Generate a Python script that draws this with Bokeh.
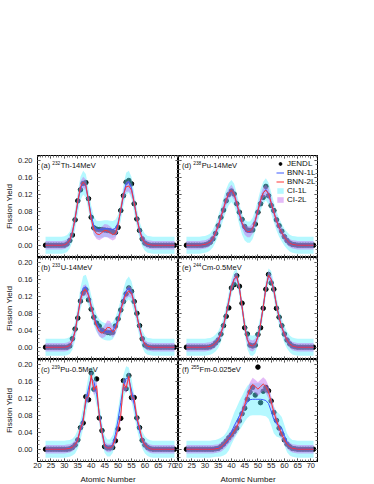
from bokeh.plotting import figure
from bokeh.layouts import gridplot
from bokeh.models import (LinearAxis, FixedTicker, NumeralTickFormatter, Range1d,
                          Label, Legend, LegendItem)
from bokeh.embed import file_html
from bokeh.resources import INLINE

# ---------------- data (Z = 23 ... 71) ----------------
Z = list(range(23, 72))
x_ticks = [20, 25, 30, 35, 40, 45, 50, 55, 60, 65, 70]
y_ticks = [0.00, 0.04, 0.08, 0.12, 0.16, 0.20]

panel_tags = ["(a) ", "(b) ", "(c) ", "(d) ", "(e) ", "(f) "]
panel_mass = ["232", "233", "239", "238", "244", "255"]
panel_rest = ["Th-14MeV", "U-14MeV", "Pu-0.5MeV", "Pu-14MeV", "Cm-0.5MeV", "Fm-0.025eV"]

# (a) Th-232 14 MeV
a_jendl = [0, 0, 0, 0, 0, 0, 0, 0, 0.003, 0.011,
           0.024, 0.060, 0.105, 0.131, 0.146, 0.148, 0.110, 0.066, 0.041, 0.038,
           0.037, 0.037, 0.036, 0.035, 0.034, 0.032, 0.030, 0.042, 0.082, 0.117,
           0.149, 0.153, 0.145, 0.098, 0.062, 0.035, 0.015, 0.005, 0.002, 0,
           0, 0, 0, 0, 0, 0, 0, 0, 0]
a_bnn1 = [0, 0, 0, 0, 0, 0, 0, 0.001, 0.004, 0.012,
          0.030, 0.062, 0.100, 0.134, 0.148, 0.140, 0.106, 0.070, 0.046, 0.038,
          0.037, 0.038, 0.039, 0.039, 0.038, 0.037, 0.040, 0.052, 0.080, 0.118,
          0.145, 0.150, 0.135, 0.100, 0.064, 0.036, 0.017, 0.007, 0.002, 0.001,
          0, 0, 0, 0, 0, 0, 0, 0, 0]
a_bnn2 = [0, 0, 0, 0, 0, 0, 0, 0.001, 0.004, 0.012,
          0.030, 0.064, 0.104, 0.138, 0.149, 0.142, 0.104, 0.062, 0.036, 0.027,
          0.025, 0.030, 0.035, 0.034, 0.030, 0.025, 0.028, 0.048, 0.085, 0.120,
          0.138, 0.140, 0.130, 0.100, 0.064, 0.035, 0.016, 0.006, 0.002, 0.001,
          0, 0, 0, 0, 0, 0, 0, 0, 0]
a_w1 = [0.02, 0.02, 0.02, 0.02, 0.02, 0.02, 0.02, 0.02, 0.02, 0.02,
        0.022, 0.024, 0.026, 0.028, 0.028, 0.028, 0.026, 0.024, 0.022, 0.020,
        0.020, 0.020, 0.020, 0.020, 0.020, 0.020, 0.020, 0.020, 0.022, 0.024,
        0.026, 0.026, 0.026, 0.024, 0.022, 0.020, 0.020, 0.020, 0.020, 0.020,
        0.02, 0.02, 0.02, 0.02, 0.02, 0.02, 0.02, 0.02, 0.02]
a_w2 = [0.01, 0.01, 0.01, 0.01, 0.01, 0.01, 0.01, 0.01, 0.01, 0.01,
        0.011, 0.012, 0.012, 0.013, 0.013, 0.013, 0.012, 0.012, 0.011, 0.012,
        0.013, 0.014, 0.015, 0.015, 0.015, 0.014, 0.013, 0.012, 0.011, 0.012,
        0.012, 0.013, 0.013, 0.012, 0.012, 0.011, 0.010, 0.010, 0.010, 0.010,
        0.01, 0.01, 0.01, 0.01, 0.01, 0.01, 0.01, 0.01, 0.01]

# (b) U-233 14 MeV
b_jendl = [0, 0, 0, 0, 0, 0, 0, 0, 0, 0.003,
           0.020, 0.043, 0.069, 0.109, 0.128, 0.136, 0.112, 0.090, 0.071, 0.057,
           0.050, 0.040, 0.037, 0.035, 0.034, 0.035, 0.050, 0.067, 0.088, 0.108,
           0.126, 0.140, 0.132, 0.108, 0.080, 0.051, 0.020, 0.005, 0.001, 0,
           0, 0, 0, 0, 0, 0, 0, 0, 0]
b_bnn1 = [0, 0, 0, 0, 0, 0, 0, 0, 0.001, 0.004,
          0.015, 0.038, 0.075, 0.115, 0.140, 0.143, 0.125, 0.098, 0.074, 0.057,
          0.046, 0.040, 0.037, 0.036, 0.036, 0.039, 0.050, 0.068, 0.090, 0.114,
          0.133, 0.140, 0.130, 0.105, 0.075, 0.045, 0.020, 0.007, 0.002, 0.001,
          0, 0, 0, 0, 0, 0, 0, 0, 0]
b_bnn2 = [0, 0, 0, 0, 0, 0, 0, 0, 0.001, 0.004,
          0.015, 0.038, 0.075, 0.112, 0.133, 0.136, 0.122, 0.096, 0.070, 0.050,
          0.037, 0.033, 0.038, 0.047, 0.046, 0.036, 0.042, 0.063, 0.088, 0.110,
          0.126, 0.133, 0.128, 0.105, 0.075, 0.045, 0.020, 0.007, 0.002, 0.001,
          0, 0, 0, 0, 0, 0, 0, 0, 0]
b_w1 = [0.02, 0.02, 0.02, 0.02, 0.02, 0.02, 0.02, 0.02, 0.02, 0.02,
        0.021, 0.022, 0.024, 0.026, 0.028, 0.028, 0.027, 0.025, 0.023, 0.021,
        0.020, 0.020, 0.020, 0.020, 0.020, 0.020, 0.020, 0.021, 0.022, 0.024,
        0.026, 0.027, 0.026, 0.024, 0.022, 0.021, 0.020, 0.020, 0.020, 0.020,
        0.02, 0.02, 0.02, 0.02, 0.02, 0.02, 0.02, 0.02, 0.02]
b_w2 = [0.01, 0.01, 0.01, 0.01, 0.01, 0.01, 0.01, 0.01, 0.01, 0.01,
        0.010, 0.011, 0.012, 0.013, 0.013, 0.013, 0.012, 0.012, 0.011, 0.011,
        0.011, 0.012, 0.014, 0.016, 0.016, 0.013, 0.011, 0.011, 0.011, 0.012,
        0.012, 0.013, 0.012, 0.012, 0.011, 0.011, 0.010, 0.010, 0.010, 0.010,
        0.01, 0.01, 0.01, 0.01, 0.01, 0.01, 0.01, 0.01, 0.01]

# (c) Pu-239 0.5 MeV
c_jendl = [0, 0, 0, 0, 0, 0, 0, 0, 0, 0.001,
           0.004, 0.010, 0.022, 0.051, 0.062, 0.124, 0.117, 0.180, 0.142, 0.166,
           0.074, 0.044, 0.006, 0.003, 0.003, 0.004, 0.020, 0.048, 0.073, 0.162,
           0.143, 0.174, 0.122, 0.122, 0.074, 0.051, 0.021, 0.010, 0.004, 0.001,
           0, 0, 0, 0, 0, 0, 0, 0, 0]
c_bnn1 = [0, 0, 0, 0, 0, 0, 0, 0, 0.001, 0.002,
          0.005, 0.011, 0.024, 0.045, 0.075, 0.110, 0.145, 0.168, 0.160, 0.130,
          0.085, 0.042, 0.012, 0.003, 0.003, 0.012, 0.035, 0.070, 0.110, 0.148,
          0.168, 0.165, 0.140, 0.105, 0.070, 0.042, 0.022, 0.010, 0.004, 0.001,
          0, 0, 0, 0, 0, 0, 0, 0, 0]
c_bnn2 = [0, 0, 0, 0, 0, 0, 0, 0, 0.001, 0.002,
          0.005, 0.011, 0.022, 0.050, 0.065, 0.120, 0.125, 0.175, 0.140, 0.150,
          0.078, 0.040, 0.008, 0.003, 0.003, 0.008, 0.025, 0.050, 0.080, 0.155,
          0.145, 0.172, 0.125, 0.118, 0.075, 0.050, 0.022, 0.010, 0.004, 0.001,
          0, 0, 0, 0, 0, 0, 0, 0, 0]
c_w1 = [0.02, 0.02, 0.02, 0.02, 0.02, 0.02, 0.02, 0.02, 0.02, 0.02,
        0.020, 0.021, 0.022, 0.024, 0.026, 0.028, 0.028, 0.028, 0.028, 0.027,
        0.025, 0.023, 0.021, 0.020, 0.020, 0.021, 0.023, 0.025, 0.027, 0.028,
        0.028, 0.028, 0.027, 0.025, 0.023, 0.021, 0.020, 0.020, 0.020, 0.020,
        0.02, 0.02, 0.02, 0.02, 0.02, 0.02, 0.02, 0.02, 0.02]
c_w2 = [0.01, 0.01, 0.01, 0.01, 0.01, 0.01, 0.01, 0.01, 0.01, 0.01,
        0.010, 0.010, 0.011, 0.011, 0.012, 0.012, 0.013, 0.013, 0.013, 0.013,
        0.012, 0.011, 0.010, 0.010, 0.010, 0.010, 0.011, 0.012, 0.013, 0.013,
        0.013, 0.013, 0.012, 0.012, 0.011, 0.011, 0.010, 0.010, 0.010, 0.010,
        0.01, 0.01, 0.01, 0.01, 0.01, 0.01, 0.01, 0.01, 0.01]

# (d) Pu-238 14 MeV
d_jendl = [0, 0, 0, 0, 0, 0, 0, 0.001, 0.003, 0.007,
           0.015, 0.028, 0.046, 0.066, 0.083, 0.105, 0.120, 0.128, 0.121, 0.098,
           0.078, 0.061, 0.044, 0.036, 0.035, 0.036, 0.050, 0.078, 0.098, 0.113,
           0.139, 0.117, 0.094, 0.082, 0.060, 0.046, 0.033, 0.020, 0.011, 0.005,
           0.002, 0.001, 0, 0, 0, 0, 0, 0, 0]
d_bnn1 = [0, 0, 0, 0, 0, 0, 0.001, 0.002, 0.004, 0.008,
          0.016, 0.029, 0.046, 0.066, 0.087, 0.106, 0.121, 0.128, 0.120, 0.098,
          0.072, 0.050, 0.036, 0.031, 0.031, 0.040, 0.058, 0.082, 0.106, 0.124,
          0.132, 0.122, 0.100, 0.078, 0.058, 0.042, 0.030, 0.019, 0.011, 0.005,
          0.002, 0.001, 0, 0, 0, 0, 0, 0, 0]
d_bnn2 = [0, 0, 0, 0, 0, 0, 0.001, 0.002, 0.004, 0.008,
          0.016, 0.029, 0.046, 0.066, 0.087, 0.107, 0.122, 0.130, 0.120, 0.100,
          0.075, 0.053, 0.038, 0.032, 0.032, 0.040, 0.058, 0.082, 0.106, 0.124,
          0.130, 0.122, 0.100, 0.078, 0.058, 0.042, 0.030, 0.019, 0.011, 0.005,
          0.002, 0.001, 0, 0, 0, 0, 0, 0, 0]
d_w1 = [0.02, 0.02, 0.02, 0.02, 0.02, 0.02, 0.02, 0.02, 0.02, 0.02,
        0.021, 0.022, 0.023, 0.024, 0.025, 0.026, 0.026, 0.026, 0.026, 0.025,
        0.025, 0.025, 0.025, 0.025, 0.025, 0.025, 0.025, 0.025, 0.026, 0.026,
        0.026, 0.026, 0.025, 0.024, 0.023, 0.022, 0.021, 0.020, 0.020, 0.020,
        0.02, 0.02, 0.02, 0.02, 0.02, 0.02, 0.02, 0.02, 0.02]
d_w2 = [0.01, 0.01, 0.01, 0.01, 0.01, 0.01, 0.01, 0.01, 0.01, 0.01,
        0.010, 0.011, 0.011, 0.012, 0.012, 0.013, 0.013, 0.013, 0.013, 0.013,
        0.013, 0.013, 0.013, 0.013, 0.013, 0.013, 0.013, 0.013, 0.013, 0.013,
        0.013, 0.013, 0.013, 0.012, 0.012, 0.011, 0.011, 0.010, 0.010, 0.010,
        0.01, 0.01, 0.01, 0.01, 0.01, 0.01, 0.01, 0.01, 0.01]

# (e) Cm-244 0.5 MeV
e_jendl = [0, 0, 0, 0, 0, 0, 0, 0, 0, 0.001,
           0.004, 0.010, 0.017, 0.031, 0.051, 0.073, 0.093, 0.140, 0.148, 0.169,
           0.144, 0.104, 0.046, 0.031, 0.005, 0.003, 0.005, 0.030, 0.046, 0.092,
           0.137, 0.172, 0.152, 0.137, 0.092, 0.071, 0.051, 0.031, 0.017, 0.008,
           0.003, 0.001, 0, 0, 0, 0, 0, 0, 0]
e_bnn1 = [0, 0, 0, 0, 0, 0, 0, 0, 0.001, 0.002,
          0.005, 0.010, 0.018, 0.032, 0.052, 0.078, 0.110, 0.142, 0.162, 0.166,
          0.140, 0.095, 0.050, 0.018, 0.005, 0.003, 0.008, 0.025, 0.055, 0.095,
          0.140, 0.168, 0.162, 0.135, 0.100, 0.070, 0.048, 0.030, 0.017, 0.008,
          0.003, 0.001, 0, 0, 0, 0, 0, 0, 0]
e_bnn2 = [0, 0, 0, 0, 0, 0, 0, 0, 0.001, 0.002,
          0.005, 0.010, 0.018, 0.032, 0.052, 0.078, 0.108, 0.142, 0.160, 0.168,
          0.140, 0.096, 0.050, 0.018, 0.005, 0.003, 0.008, 0.025, 0.055, 0.095,
          0.140, 0.170, 0.160, 0.135, 0.100, 0.070, 0.048, 0.030, 0.017, 0.008,
          0.003, 0.001, 0, 0, 0, 0, 0, 0, 0]
e_w1 = [0.02, 0.02, 0.02, 0.02, 0.02, 0.02, 0.02, 0.02, 0.02, 0.02,
        0.020, 0.020, 0.020, 0.020, 0.020, 0.020, 0.020, 0.019, 0.018, 0.018,
        0.019, 0.020, 0.021, 0.022, 0.024, 0.024, 0.022, 0.020, 0.020, 0.020,
        0.019, 0.018, 0.018, 0.019, 0.020, 0.020, 0.020, 0.020, 0.020, 0.020,
        0.02, 0.02, 0.02, 0.02, 0.02, 0.02, 0.02, 0.02, 0.02]
e_w2 = [0.01, 0.01, 0.01, 0.01, 0.01, 0.01, 0.01, 0.01, 0.01, 0.01,
        0.010, 0.010, 0.010, 0.010, 0.010, 0.010, 0.010, 0.010, 0.010, 0.010,
        0.010, 0.010, 0.011, 0.012, 0.013, 0.013, 0.012, 0.011, 0.010, 0.010,
        0.010, 0.010, 0.010, 0.010, 0.010, 0.010, 0.010, 0.010, 0.010, 0.010,
        0.01, 0.01, 0.01, 0.01, 0.01, 0.01, 0.01, 0.01, 0.01]

# (f) Fm-255 0.025 eV
f_jendl = [0, 0, 0, 0, 0, 0, 0, 0, 0, 0,
           0, 0.001, 0.002, 0.006, 0.012, 0.019, 0.027, 0.034, 0.042, 0.050,
           0.067, 0.084, 0.097, 0.118, 0.135, 0.146, 0.128, 0.194, 0.110, 0.137,
           0.146, 0.138, 0.114, 0.087, 0.068, 0.050, 0.036, 0.022, 0.012, 0.006,
           0.002, 0.001, 0, 0, 0, 0, 0, 0, 0]
f_bnn1 = [0, 0, 0, 0, 0, 0, 0, 0, 0, 0,
          0.001, 0.002, 0.003, 0.005, 0.008, 0.014, 0.024, 0.040, 0.055, 0.067,
          0.079, 0.090, 0.102, 0.112, 0.117, 0.118, 0.118, 0.118, 0.118, 0.117,
          0.115, 0.108, 0.090, 0.070, 0.060, 0.056, 0.050, 0.033, 0.015, 0.006,
          0.002, 0.001, 0, 0, 0, 0, 0, 0, 0]
f_bnn2 = [0, 0, 0, 0, 0, 0, 0, 0, 0, 0,
          0, 0.001, 0.002, 0.005, 0.010, 0.017, 0.025, 0.033, 0.042, 0.052,
          0.068, 0.086, 0.105, 0.125, 0.142, 0.153, 0.148, 0.142, 0.148, 0.154,
          0.148, 0.135, 0.112, 0.088, 0.068, 0.050, 0.035, 0.022, 0.012, 0.006,
          0.002, 0.001, 0, 0, 0, 0, 0, 0, 0]
f_w1 = [0.02, 0.02, 0.02, 0.02, 0.02, 0.02, 0.02, 0.02, 0.02, 0.02,
        0.020, 0.020, 0.021, 0.022, 0.023, 0.025, 0.027, 0.029, 0.031, 0.033,
        0.035, 0.036, 0.037, 0.038, 0.038, 0.038, 0.038, 0.038, 0.038, 0.038,
        0.037, 0.036, 0.034, 0.032, 0.030, 0.028, 0.026, 0.024, 0.022, 0.021,
        0.02, 0.02, 0.02, 0.02, 0.02, 0.02, 0.02, 0.02, 0.02]
f_w2 = [0.01, 0.01, 0.01, 0.01, 0.01, 0.01, 0.01, 0.01, 0.01, 0.01,
        0.010, 0.010, 0.010, 0.011, 0.011, 0.012, 0.012, 0.013, 0.013, 0.013,
        0.014, 0.014, 0.015, 0.015, 0.016, 0.016, 0.016, 0.016, 0.016, 0.016,
        0.016, 0.015, 0.014, 0.013, 0.012, 0.012, 0.011, 0.011, 0.010, 0.010,
        0.01, 0.01, 0.01, 0.01, 0.01, 0.01, 0.01, 0.01, 0.01]

series = [
    (a_jendl, a_bnn1, a_bnn2, a_w1, a_w2),
    (b_jendl, b_bnn1, b_bnn2, b_w1, b_w2),
    (c_jendl, c_bnn1, c_bnn2, c_w1, c_w2),
    (d_jendl, d_bnn1, d_bnn2, d_w1, d_w2),
    (e_jendl, e_bnn1, e_bnn2, e_w1, e_w2),
    (f_jendl, f_bnn1, f_bnn2, f_w1, f_w2),
]

# ---------------- style ----------------
FONT = "Liberation Sans"
CYAN = "#5cf0ff"
VIOLET = "#c466ee"
BLUE = "#3d5bff"
RED = "#ff3434"
Y_LO, Y_HI = -0.029, 0.212
FRAME_H = 102
LEG_ROW = 9

ARIAL = {"(": 0.333, ")": 0.333, " ": 0.278, "a": 0.556, "b": 0.556, "c": 0.5,
         "d": 0.556, "e": 0.556, "f": 0.278}


def text_w(s, size):
    return sum(ARIAL.get(ch, 0.556) for ch in s) * size


def style_axis(ax, show):
    ax.axis_line_color = "black"
    ax.axis_line_width = 1
    ax.major_tick_in = 3
    ax.major_tick_out = 0
    ax.minor_tick_in = 2
    ax.minor_tick_out = 0
    ax.major_tick_line_color = "#333333"
    ax.minor_tick_line_color = "#777777"
    ax.axis_label_text_font = FONT
    ax.axis_label_text_font_size = "8px"
    ax.axis_label_text_font_style = "normal"
    ax.axis_label_text_color = "#111111"
    if show:
        ax.major_label_text_font = FONT
        ax.major_label_text_font_size = "7.5px"
        ax.major_label_text_color = "#222222"
    else:
        # mirror axis: ticks only, no labels drawn and no space taken
        ax.major_label_text_font_size = "0px"
        ax.major_label_text_color = None
        ax.major_label_standoff = 0


def make_panel(i, col, row):
    left = col == 0
    top = row == 0
    bottom = row == 2
    jendl, bnn1, bnn2, w1, w2 = series[i]
    p = figure(frame_width=141 if left else 144, frame_height=FRAME_H,
               x_range=Range1d(20, 72.5), y_range=Range1d(Y_LO, Y_HI),
               x_axis_location=None, y_axis_location=None,
               output_backend="svg", toolbar_location=None, tools="",
               min_border_left=37 if left else 5,
               min_border_right=0 if left else 5,
               min_border_top=155 if top else 0,
               min_border_bottom=0,
               background_fill_color="white", border_fill_color="white")
    if not left:
        p.border_fill_alpha = 0
        p.margin = (0, 0, 0, -5)
    p.grid.visible = False
    p.outline_line_color = "black"
    p.outline_line_width = 1

    for loc in ("below", "above"):
        ax = LinearAxis(ticker=FixedTicker(ticks=x_ticks, minor_ticks=list(range(20, 73))))
        show = (loc == "below" and bottom)
        style_axis(ax, show)
        if show:
            ax.axis_label = "Atomic Number"
            ax.major_label_standoff = 1
            ax.axis_label_standoff = 4
        p.add_layout(ax, loc)
    y_minor = [round(-0.02 + 0.01 * k, 2) for k in range(24)]
    for loc in ("left", "right"):
        ax = LinearAxis(ticker=FixedTicker(ticks=y_ticks, minor_ticks=y_minor),
                        formatter=NumeralTickFormatter(format="0.00"))
        show = (loc == "left" and left)
        style_axis(ax, show)
        if show:
            ax.axis_label = "Fission Yield"
            ax.major_label_standoff = 5
            ax.axis_label_standoff = 1
        p.add_layout(ax, loc)

    lo1 = [b - w for b, w in zip(bnn1, w1)]
    hi1 = [b + w for b, w in zip(bnn1, w1)]
    lo2 = [b - w for b, w in zip(bnn2, w2)]
    hi2 = [b + w for b, w in zip(bnn2, w2)]

    r_pts = p.scatter(Z, jendl, size=4.5, color="black")
    r_ci1 = p.varea(x=Z, y1=lo1, y2=hi1, fill_color=CYAN, fill_alpha=0.45)
    r_ci2 = p.varea(x=Z, y1=lo2, y2=hi2, fill_color=VIOLET, fill_alpha=0.45)
    r_b1 = p.line(Z, bnn1, line_color=BLUE, line_width=1)
    r_b2 = p.line(Z, bnn2, line_color=RED, line_width=1)

    # panel title with raised mass number
    ty = Y_HI - 10 * (Y_HI - Y_LO) / FRAME_H
    x0 = 3.5
    tag, mass, rest = panel_tags[i], panel_mass[i], panel_rest[i]
    p.add_layout(Label(x=20, y=ty, x_offset=x0, text=tag, text_font=FONT,
                       text_font_size="7.5px", text_baseline="middle", text_color="#111111"))
    x1 = x0 + text_w(tag, 7.5)
    p.add_layout(Label(x=20, y=ty, x_offset=x1, y_offset=2.5, text=mass, text_font=FONT,
                       text_font_size="4.8px", text_baseline="middle", text_color="#111111"))
    x2 = x1 + text_w(mass, 4.8) + 0.4
    p.add_layout(Label(x=20, y=ty, x_offset=x2, text=rest, text_font=FONT,
                       text_font_size="7.5px", text_baseline="middle", text_color="#111111"))

    if i == 3:
        items = [
            LegendItem(label="JENDL", renderers=[r_pts]),
            LegendItem(label="BNN-1L", renderers=[r_b1]),
            LegendItem(label="BNN-2L", renderers=[r_b2]),
            LegendItem(label="CI-1L", renderers=[r_ci1]),
            LegendItem(label="CI-2L", renderers=[r_ci2]),
        ]
        # location = (x from frame left, y of legend bottom from frame bottom)
        leg_bottom = FRAME_H - 4 - LEG_ROW * len(items)
        legend = Legend(items=items, location=(98, leg_bottom), orientation="vertical",
                        label_text_font=FONT, label_text_font_size="8px",
                        label_text_color="#111111",
                        glyph_width=8, glyph_height=7, label_height=LEG_ROW, label_standoff=3,
                        spacing=0, padding=0, margin=0,
                        border_line_color=None, background_fill_alpha=0)
        p.add_layout(legend)
    return p


order = [[0, 3], [1, 4], [2, 5]]
rows = []
for r, pair in enumerate(order):
    rows.append([make_panel(idx, c, r) for c, idx in enumerate(pair)])

grid = gridplot(rows, toolbar_location=None)

open("out.html", "w").write(file_html(grid, INLINE))
